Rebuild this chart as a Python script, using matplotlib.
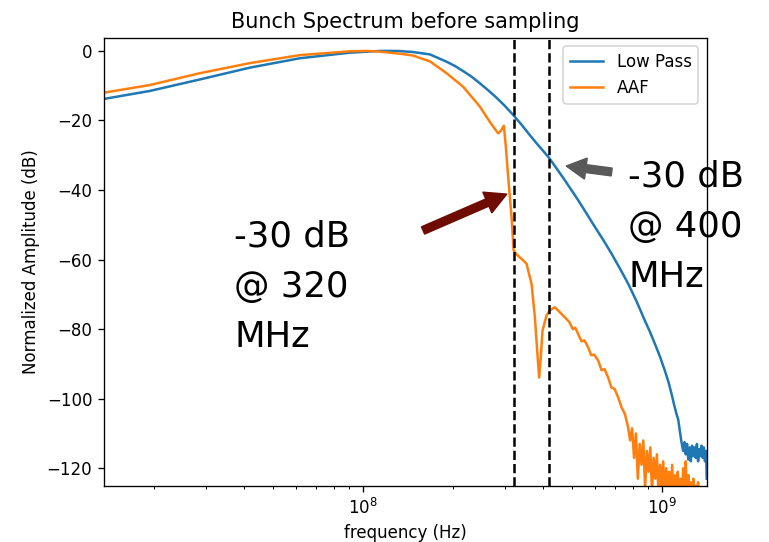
import matplotlib
matplotlib.use("Agg")
import matplotlib.pyplot as plt
import numpy as np

# ---------------- data (frequencies in MHz, amplitudes in dB) ----------------
freq_lp_mhz = [13.65, 19.44, 28.57, 42.0, 61.7, 90.7, 114.3, 129.9, 147.2, 168.0,
               191.0, 203.5, 217.0, 231.5, 246.8, 263.0, 281.0, 299.2, 319.0, 340.2,
               362.6, 386.7, 417.6, 445.0, 475.0, 526.1, 560.0, 598.4, 640.0, 680.5,
               725.0, 773.0, 825.0, 879.0, 915.0, 950.0, 988.0,
               1025.6, 1055.0, 1080.0, 1102.0, 1122.0, 1137.0, 1151.0, 1166.0, 1181.0,
               1193.0, 1205.0, 1217.0, 1229.0, 1241.0, 1253.0, 1265.0, 1277.0,
               1289.0, 1301.0, 1313.0, 1325.0, 1337.0, 1349.0, 1361.0, 1373.0,
               1385.0, 1397.0, 1409.0, 1416.0]
lp_db = [-13.8, -11.5, -8.2, -4.8, -2.1, -0.5, 0.0, 0.0, -0.3, -1.0,
         -3.1, -4.3, -5.8, -7.4, -9.3, -11.3, -13.5, -15.8, -18.4, -21.2,
         -24.2, -27.1, -30.4, -33.7, -37.2, -42.9, -46.6, -50.6, -54.5, -58.3,
         -62.5, -66.9, -72.0, -77.5, -80.8, -84.2, -87.9,
         -91.9, -95.2, -98.6, -101.8, -104.4, -106.0, -109.2, -112.5, -115.0,
         -112.5, -116.0, -113.0, -117.5, -114.0, -118.0, -113.5, -116.5,
         -114.0, -117.0, -113.0, -118.0, -114.5, -116.5, -113.5, -117.0,
         -114.0, -118.0, -115.0, -123.0]

freq_aaf_mhz = [13.65, 19.44, 28.57, 42.0, 61.7, 90.7, 103.4, 114.3, 133.3, 147.2,
                168.0, 191.0, 217.0, 246.8, 266.5, 284.1, 290.0, 296.9, 301.5, 306.9,
                315.0, 320.0, 327.3, 344.4, 353.6, 367.5, 377.0, 383.7, 389.6, 393.8,
                399.9, 412.5, 423.1, 439.7, 475.0, 492.0, 505.0, 515.0, 526.0, 540.0,
                552.0, 568.0, 582.0, 595.0, 613.7, 630.0, 645.0, 662.8, 680.0, 697.0,
                715.8, 735.0, 754.0, 773.4,
                785.0, 797.0, 809.0, 821.0, 833.0, 845.0, 857.0, 869.0, 881.0, 893.0,
                905.0, 917.0, 929.0, 941.0, 953.0, 965.0, 977.0, 989.0, 1001.0, 1013.0,
                1025.0, 1037.0, 1049.0, 1061.0, 1073.0, 1085.0, 1097.0, 1109.0, 1121.0,
                1133.0, 1145.0, 1157.0, 1169.0, 1181.0, 1193.0, 1205.0, 1217.0, 1229.0,
                1241.0, 1253.0, 1265.0, 1277.0, 1289.0, 1301.0, 1313.0, 1325.0, 1337.0,
                1349.0, 1361.0, 1373.0, 1385.0, 1397.0, 1409.0, 1416.0]
aaf_db = [-12.0, -9.8, -6.4, -3.5, -1.2, -0.1, 0.0, -0.2, -0.8, -1.3,
          -3.0, -6.4, -10.3, -16.0, -20.4, -23.7, -23.0, -21.5, -27.6, -36.2,
          -47.7, -57.3, -58.5, -60.2, -61.2, -67.0, -76.6, -86.0, -93.9, -89.0,
          -80.4, -76.0, -74.6, -73.7, -76.6, -78.0, -80.0, -79.6, -81.4, -83.5,
          -83.2, -85.2, -87.5, -87.3, -89.0, -91.8, -91.5, -93.9, -96.8, -97.2,
          -99.6, -102.5, -104.4, -108.3,
          -112.0, -108.5, -117.0, -110.0, -123.0, -113.0, -119.0, -112.0, -126.0, -115.0,
          -121.0, -114.0, -127.0, -117.0, -123.0, -116.0, -128.0, -119.0, -126.0, -118.0,
          -129.0, -120.0, -127.0, -121.0, -130.0, -119.0, -128.0, -122.0, -131.0,
          -121.0, -129.0, -123.0, -132.0, -120.0, -127.0, -118.0, -130.0, -122.0,
          -129.0, -124.0, -133.0, -123.0, -131.0, -125.0, -134.0, -124.0, -132.0,
          -127.0, -135.0, -128.0, -136.0, -130.0, -131.0, -137.0]

cutoff_lines_mhz = [322.0, 420.0]

labels = ["Low Pass", "AAF"]
title = "Bunch Spectrum before sampling"
xlabel = "frequency (Hz)"
ylabel = "Normalized Amplitude (dB)"

note_320 = "-30 dB\n@ 320\nMHz"
note_400 = "-30 dB\n@ 400\nMHz"

# ---------------- figure ----------------
DPI = 120
fig = plt.figure(figsize=(769 / DPI, 542 / DPI), dpi=DPI)
ax = fig.add_axes([0.1352, 0.1033, 0.919 - 0.1352, 0.9304 - 0.1033])

f_lp = np.array(freq_lp_mhz) * 1e6
f_aaf = np.array(freq_aaf_mhz) * 1e6
ax.semilogx(f_lp, lp_db, color="C0", lw=1.5, label=labels[0])
ax.semilogx(f_aaf, aaf_db, color="C1", lw=1.5, label=labels[1])
for fc in cutoff_lines_mhz:
    ax.axvline(fc * 1e6, color="black", ls="--", lw=1.5)

ax.set_xlim(f_lp[0], f_lp[-1])
ax.set_ylim(-125.1, 3.8)
ax.set_title(title, fontsize=12.5)
ax.set_xlabel(xlabel, fontsize=10)
ax.set_ylabel(ylabel, fontsize=10)
ax.legend(loc="upper right", fontsize=10)

# big overlay notes (baseline of last line)
big_font = dict(fontsize=21.2, family=["DejaVu Sans"],
                color="black", va="baseline", ha="left", linespacing=1.59)
fig.text(234 / 769, 1 - 346.7 / 542, note_320, **big_font)
fig.text(628 / 769, 1 - 286.7 / 542, note_400, **big_font)

# arrows (in data coordinates)
ax.annotate("", xy=(303e6, -41.2), xytext=(159.5e6, -51.6),
            arrowprops=dict(arrowstyle="simple,head_length=1.5,head_width=1.6,tail_width=0.55",
                            color="#6e0c02", shrinkA=0, shrinkB=0, mutation_scale=8.3),
            annotation_clip=False)
ax.annotate("", xy=(481e6, -33.1), xytext=(680.5e6, -34.8),
            arrowprops=dict(arrowstyle="simple,head_length=1.4,head_width=1.5,tail_width=0.55",
                            color="#595959", shrinkA=0, shrinkB=0, mutation_scale=8.3),
            annotation_clip=False)

fig.savefig("out.png", dpi=DPI)
